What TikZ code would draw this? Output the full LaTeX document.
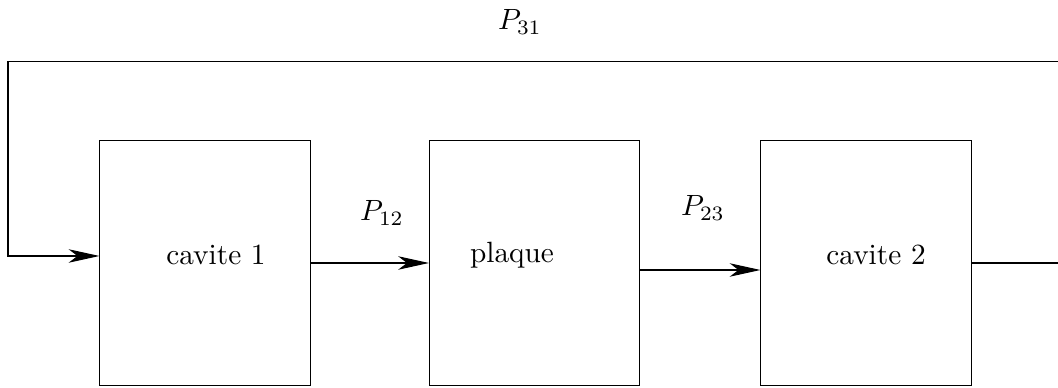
\documentclass[tikz,border=0pt]{standalone}
\usetikzlibrary{arrows.meta,calc}
\tikzset{
  bloc/.style={draw, minimum width=2.52cm, minimum height=2.93cm, inner sep=0pt},
  fleche/.style={-{Stealth[length=10.5pt, width=4.6pt, inset=3pt]}}
}
\begin{document}
\begin{tikzpicture}[x=0.012cm, y=0.012cm, line width=0.35pt]
  \useasboundingbox (0,0) rectangle (1058,388);
  % les trois blocs
  \node[bloc] (cav1) at (205,125) {};
  \node[bloc] (plq) at (534.5,125) {};
  \node[bloc] (cav2) at (866,125) {};
  \node at (216,133) {cavite 1};
  \node at (512,133) {plaque};
  \node at (876,133) {cavite 2};
  % transmissions
  \draw[fleche] (cav1.east) -- (plq.west);
  \draw[fleche] ($(plq.east)+(0,-7)$) -- ($(cav2.west)+(0,-7)$);
  \node (p12) at (382,175) {$P_{12}$};
  \node (p23) at (703,180) {$P_{23}$};
  % retour
  \coordinate (hd) at (1064,326);
  \coordinate (hg) at (8,326);
  \coordinate (e1) at ($(cav1.west)+(0,7)$);
  \draw[fleche] (cav2.east) -| (hd) -- (hg) |- (e1);
  \node (p31) at (520,366) {$P_{31}$};
\end{tikzpicture}
\end{document}
